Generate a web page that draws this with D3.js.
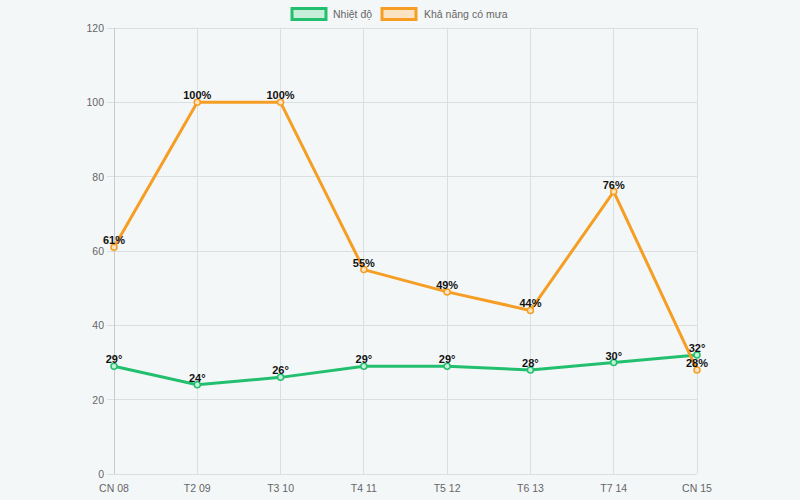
<!DOCTYPE html>
<html><head><meta charset="utf-8">
<script src="https://cdn.jsdelivr.net/npm/d3@7"></script>
<style>html,body{margin:0;padding:0;background:#f4f7f8;}svg{display:block;font-family:"Liberation Sans",Arial,sans-serif;}</style>
</head><body>
<svg id="c" width="800" height="500"></svg>
<script>
const categories = ["CN 08","T2 09","T3 10","T4 11","T5 12","T6 13","T7 14","CN 15"];
const temperature = [29,24,26,29,29,28,30,32];
const rainChance = [61,100,100,55,49,44,76,28];
const yTicks = [0,20,40,60,80,100,120];
const seriesNames = ["Nhiệt độ","Khả năng có mưa"];

(function(){
const svg = d3.select("#c");
const pL = 114, pR = 697, pT = 28, pB = 474;
const x = d3.scalePoint().domain(categories).range([pL,pR]);
const y = d3.scaleLinear().domain([0,120]).range([pB,pT]);
const fs = 10.5;

const grid = svg.append("g");
yTicks.forEach(t=>{
  grid.append("line").attr("x1",pL-7).attr("x2",pR).attr("y1",y(t)).attr("y2",y(t))
    .attr("stroke","#dcdfe0").attr("stroke-width",1).attr("shape-rendering","crispEdges");
  svg.append("text").attr("x",pL-10).attr("y",y(t)+4).attr("text-anchor","end")
    .attr("font-size",fs).attr("fill","#666").text(t);
});
categories.forEach(c=>{
  grid.append("line").attr("x1",x(c)).attr("x2",x(c)).attr("y1",pT).attr("y2",pB)
    .attr("stroke", c===categories[0] ? "#c8cbcc" : "#dcdfe0").attr("stroke-width",1).attr("shape-rendering","crispEdges");
  svg.append("text").attr("x",x(c)).attr("y",pB+18).attr("text-anchor","middle")
    .attr("font-size",fs).attr("fill","#666").text(c);
});

const series = [
  {name:seriesNames[0], data:temperature, color:"#22c06e", fill:"#c6eed8", suffix:"°"},
  {name:seriesNames[1], data:rainChance, color:"#f59e23", fill:"#fbe3c4", suffix:"%"}
];
const line = d3.line().x((d,i)=>x(categories[i])).y(d=>y(d));
series.forEach(s=>{
  svg.append("path").attr("d",line(s.data)).attr("fill","none").attr("stroke",s.color).attr("stroke-width",3).attr("stroke-linejoin","round");
  svg.selectAll(null).data(s.data).enter().append("circle")
    .attr("cx",(d,i)=>x(categories[i])).attr("cy",d=>y(d)).attr("r",3)
    .attr("fill",s.fill).attr("stroke",s.color).attr("stroke-width",1.5);
});
series.forEach(s=>{
  svg.selectAll(null).data(s.data).enter().append("text")
    .attr("x",(d,i)=>x(categories[i])).attr("y",d=>y(d)-3).attr("text-anchor","middle")
    .attr("font-size",fs+0.5).attr("font-weight","bold").attr("fill","#111").text(d=>d+s.suffix);
});

const lg = [{x:292,tx:333},{x:382,tx:424}];
series.forEach((s,i)=>{
  svg.append("rect").attr("x",lg[i].x).attr("y",8.5).attr("width",34).attr("height",11)
    .attr("fill",s.fill).attr("stroke",s.color).attr("stroke-width",3);
  svg.append("text").attr("x",lg[i].tx).attr("y",18).attr("font-size",10.5).attr("fill","#666").text(s.name);
});
})();
</script>
</body></html>
